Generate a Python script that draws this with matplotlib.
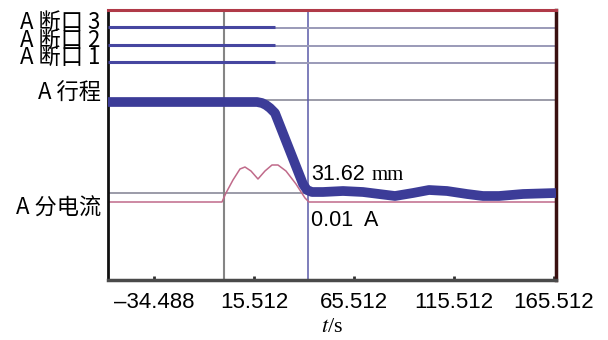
import numpy as np
import matplotlib
matplotlib.use('Agg')
import matplotlib.pyplot as plt
import matplotlib.transforms as mtransforms

plt.rcParams['mathtext.fontset'] = 'stix'

# time axis (s)
t_min, t_max = -57.488, 166.512
xticks = [-34.488, 15.512, 65.512, 115.512, 165.512]
xticklabels = ['\u201334.488', '15.512', '65.512', '115.512', '165.512']

# break contacts: closed until t_open, offsets in trace units
break_names = ['A 断口 3', 'A 断口 2', 'A 断口 1']
break_levels = [253, 235, 218]
t_open = 26.0

# stroke trace
t_stroke = [-57.5, 17.0, 19.5, 21.5, 23.5, 26.0, 40.0, 42.0, 44.5, 50, 60, 70, 78, 86,
            95, 103, 112, 122, 130, 138, 150, 166.5]
stroke = [178, 178, 177, 175, 172, 167, 96, 90, 88, 88, 89, 88, 86, 84,
          87, 90, 89, 86, 84, 84, 86, 87]
stroke_ref = [180, 87]   # gray reference lines

# coil current trace
t_cur = [-57.5, -0.5, 1.5, 5.0, 8.5, 11.0, 14.0, 17.5, 21.0, 24.5, 27.5, 31.5, 36.5,
         41.0, 43.0, 166.5]
current = [78, 78, 87, 100, 111, 113, 109, 101, 109, 115, 115, 109, 96, 82, 78, 78]

t_trigger = 0.5
t_cursor = 42.5

fig = plt.figure(figsize=(6.08, 3.40), dpi=100)
ax = fig.add_axes([108/608, 60/340, 448/608, 270/340])
ax.set_xlim(t_min, t_max)
ax.set_ylim(0, 270)

# reference lines
for y in stroke_ref:
    ax.axhline(y, color='#8a8a9a', lw=1.2, zorder=1)
ax.axvline(t_trigger, color='#858585', lw=1.5, zorder=1)
ax.axvline(t_cursor, color='#5a5aa8', lw=1.1, zorder=1)

# breaks
for y in break_levels:
    ax.plot([t_min, t_open], [y, y], color='#4646a0', lw=2.2, solid_capstyle='butt', zorder=3)
    ax.plot([t_open, t_max], [y - 1, y - 1], color='#9a9ab8', lw=1.4, zorder=2)

# current & stroke
ax.plot(t_cur, current, color='#c06a8a', lw=1.1, zorder=2)
ax.plot(t_stroke, stroke, color='#3c3c98', lw=7, solid_joinstyle='round',
        solid_capstyle='butt', zorder=4)

# channel labels
trans = mtransforms.blended_transform_factory(ax.transAxes, ax.transData)
fam = ['Noto Sans CJK SC', 'DejaVu Sans']
for name, y in zip(break_names, break_levels):
    ax.text(-0.016, y + 5, name, transform=trans, ha='right', va='center',
            fontsize=16, family=fam, weight='medium')
ax.text(-0.016, 187, 'A 行程', transform=trans, ha='right', va='center', fontsize=16,
        family=fam, weight='medium')
ax.text(-0.016, 72, 'A 分电流', transform=trans, ha='right', va='center', fontsize=16,
        family=fam, weight='medium')

# cursor readouts
t1 = ax.text(t_cursor + 1.5, 106, '31.62', ha='left', va='center', fontsize=15.5,
             family='Liberation Sans', zorder=5)
ax.annotate('mm', xy=(1, 0), xycoords=t1, xytext=(5, 0), textcoords='offset points',
            ha='left', va='bottom', fontsize=15, family='Liberation Serif')
ax.text(t_cursor + 1.5, 60, '0.01  A', ha='left', va='center', fontsize=15.5,
        family='Liberation Sans', zorder=5)

ax.set_xticks(xticks)
ax.set_xticklabels(xticklabels, fontsize=16, family='Liberation Sans')
ax.set_yticks([])
ax.tick_params(axis='x', direction='in', length=3, width=2, color='#303030', pad=9)
ax.set_xlabel(r'$t$/s', fontsize=16, family='Liberation Serif', labelpad=3)

ax.spines['left'].set_color('#101010')
ax.spines['left'].set_linewidth(2)
ax.spines['bottom'].set_color('#4a4a4a')
ax.spines['bottom'].set_linewidth(2.5)
ax.spines['top'].set_color('#b03a48')
ax.spines['top'].set_linewidth(2.2)
ax.spines['right'].set_color('#3a1010')
ax.spines['right'].set_linewidth(2.5)

fig.savefig('out.png', dpi=100)
